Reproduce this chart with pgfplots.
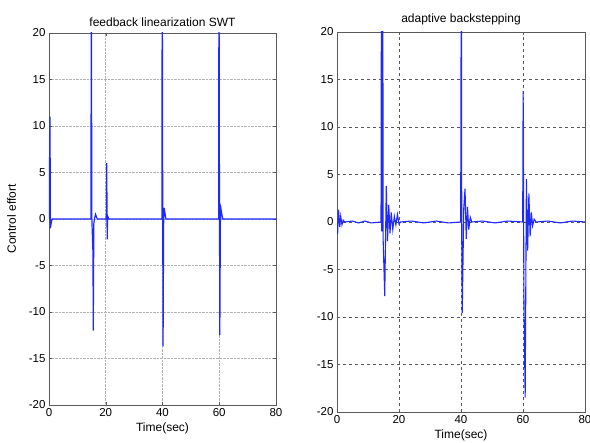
\documentclass[border=0pt]{standalone}
\usepackage{fontspec}
\setmainfont{Liberation Sans}
\usepackage{pgfplots}
\pgfplotsset{compat=1.18}

\definecolor{mblue}{RGB}{30,40,255}
\definecolor{frame}{RGB}{90,90,90}

\pgfplotsset{
  matlab/.style={
    scale only axis,
    xmin=0, xmax=80, ymin=-20, ymax=20,
    xtick={0,20,40,60,80},
    ytick={-20,-15,...,20},
    tick align=inside,
    major tick length=3pt,
    axis line style={frame, line width=0.8pt},
    tick style={frame},
    grid=major,
    tick label style={font=\fontsize{11.5}{12}\selectfont},
    label style={font=\fontsize{12}{13}\selectfont},
    title style={font=\fontsize{12}{13}\selectfont, yshift=-3pt},
    xlabel={Time(sec)},
    xlabel style={yshift=1pt},
    /pgf/number format/assume math mode=true,
    clip=true,
  },
}

\begin{document}
\begin{tikzpicture}
\useasboundingbox (0,0) rectangle (590pt,443pt);

\begin{axis}[matlab,
  at={(49pt,38pt)}, anchor=south west,
  width=227pt, height=372pt,
  grid style={densely dotted, gray!60, line width=0.6pt},
  title={feedback linearization SWT},
  ylabel={Control effort},
  ylabel style={yshift=6pt},
]
\addplot[mblue, line width=1.2pt] coordinates {
(0,0) (0.35,11) (0.5,-1) (0.8,-0.4) (1.1,0) (14.8,0) (14.9,30) (15.1,0)
(15.5,-3.7) (15.6,-12) (15.8,-0.5) (16.0,0) (16.4,0.5) (17,0) (20.2,0)
(20.35,6) (20.5,-2.2) (20.7,0.3) (21.1,0) (39.8,0) (39.9,30) (40.1,-2)
(40.2,-13.7) (40.4,-0.5) (40.6,1.2) (41.2,0) (59.8,0) (59.9,30) (60.1,-1)
(60.2,-12.5) (60.4,-0.4) (60.6,1.1) (61.2,0) (80,0)
};
\end{axis}

\begin{axis}[matlab,
  at={(337pt,31pt)}, anchor=south west,
  width=248pt, height=380pt,
  grid style={dashed, black!65, line width=0.7pt},
  title={adaptive backstepping},
]
\addplot[mblue, line width=1.1pt] coordinates {
(0,0) (0.2,-1.3) (0.5,1.3) (0.9,-0.5) (1.2,0.6) (1.6,-0.3) (2.0,0.2) (2.5,0)
(5,0.1) (7,-0.1) (9,0.1) (11,-0.1) (14.2,0)
(14.35,30) (14.45,-1) (14.55,30) (14.65,-1) (14.75,30) (14.9,-2)
(15.4,-7.8) (15.9,3.8) (16.3,-2.0) (16.7,1.8) (17.1,-1.2) (17.5,1.0)
(18,-0.8) (18.5,0.6) (19,-0.3) (19.5,0.8) (20,-0.2) (20.5,0)
(24,0.1) (28,-0.1) (32,0.1) (36,-0.1) (39.9,0)
(40.1,30) (40.25,-2) (40.4,-9.6) (40.9,1.5) (41.3,3.5) (41.7,-1.8)
(42.1,1.6) (42.5,-0.8) (43,0.5) (43.5,0) (47,0.1) (51,-0.1) (55,0.1) (59.9,0)
(60.05,13.8) (60.3,-8) (60.7,-18.5) (61.1,4.5) (61.5,-3) (61.9,3)
(62.3,-1.5) (62.7,1) (63.1,-0.4) (63.6,0.3) (64.2,0) (68,0.1) (72,-0.1)
(76,0.1) (80,0)
};
\end{axis}
\end{tikzpicture}
\end{document}
